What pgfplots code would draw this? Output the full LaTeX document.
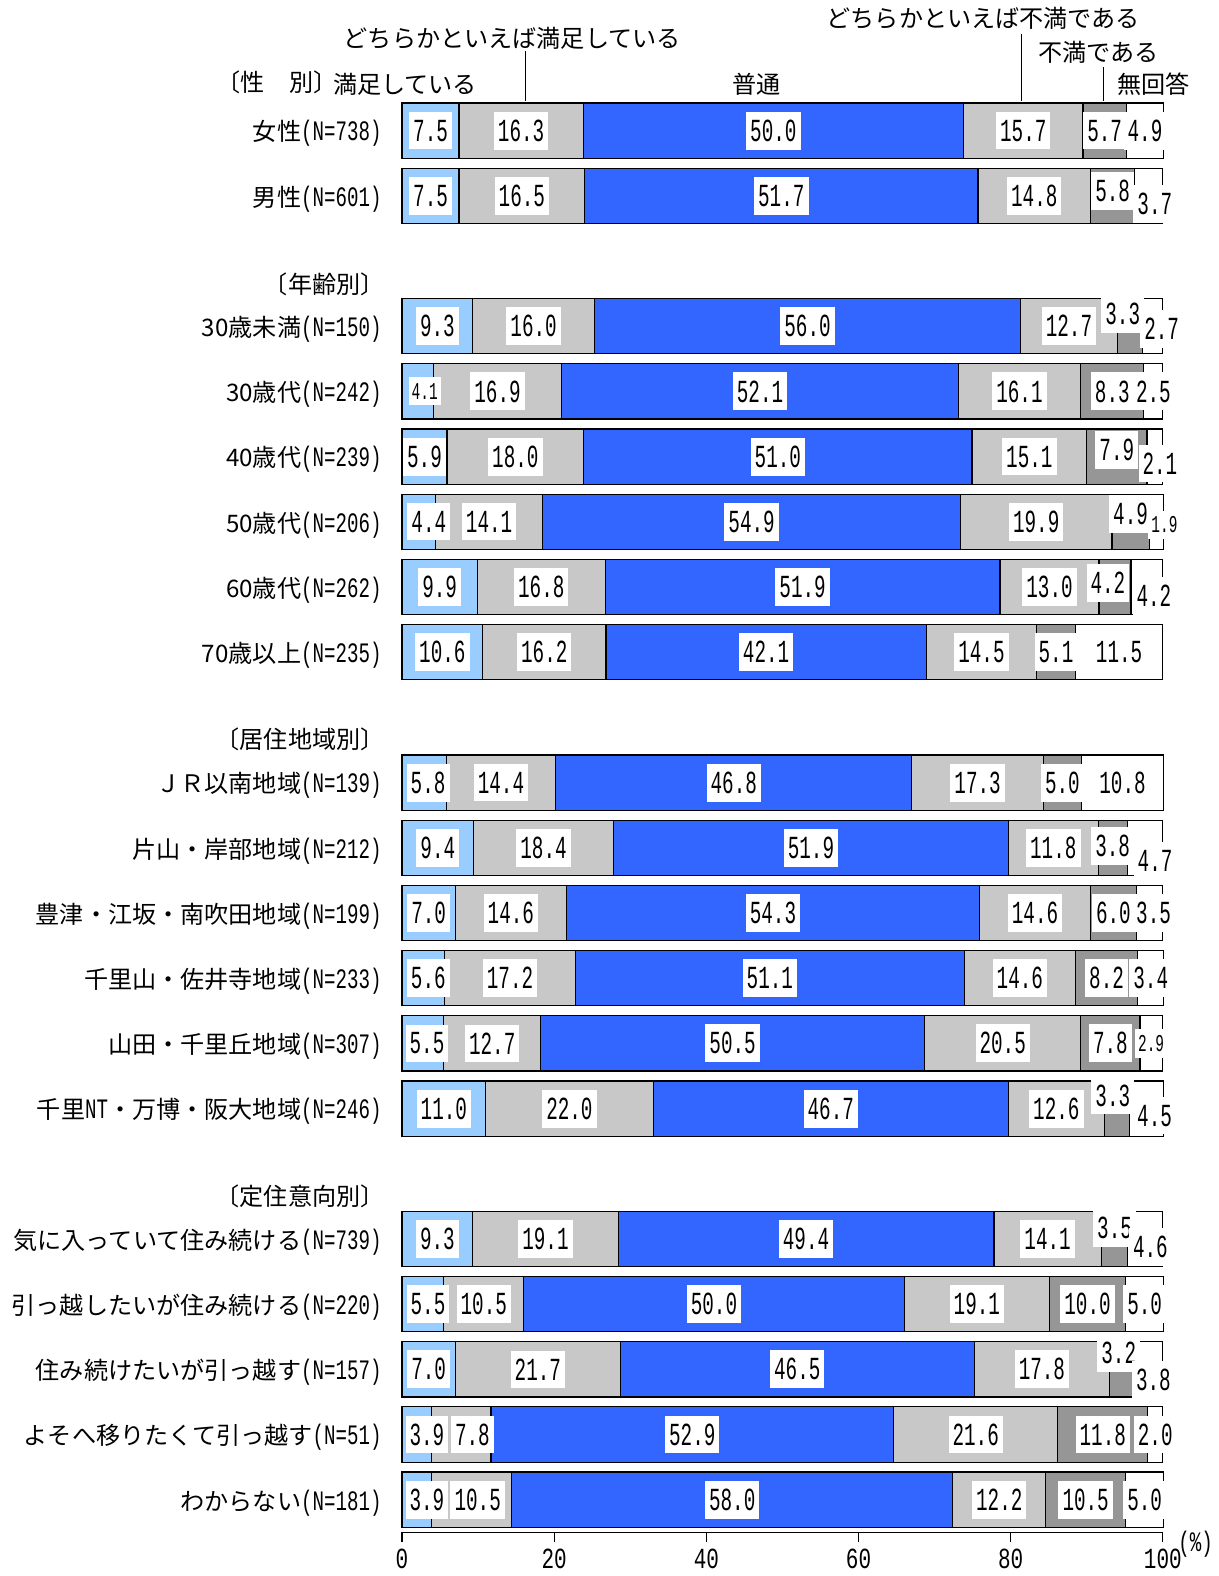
\documentclass[border=0pt]{standalone}
\usepackage{fontspec}
\setmainfont{Noto Sans CJK JP}
\newfontfamily\numfont{Liberation Mono}
\usepackage{graphicx}
\usepackage{pgfplots}
\usepackage{pgfplotstable}
\pgfplotsset{compat=1.18}

\definecolor{c1}{HTML}{99CCFF}
\definecolor{c2}{HTML}{C8C8C8}
\definecolor{c3}{HTML}{3366FF}
\definecolor{c5}{HTML}{969696}

\newcommand\nn[1]{\scalebox{0.68}[1]{\fontsize{14}{14}\selectfont\numfont #1}}
\newcommand\vl[1]{\scalebox{0.6}[1]{\fontsize{16}{16}\selectfont\numfont #1}}

\pgfplotstableread{
y   v1   v2   v3   v4   v5   v6   x1  s1   x2  x5   y5  x6  y6   s6  z
0   7.5  16.3 50.0 15.7 5.7  4.9  0   1    0   0    0   0   0    1   0
-1  7.5  16.5 51.7 14.8 5.8  3.7  0   1    0   0    2.5 3   -4   1   0
-3  9.3  16.0 56.0 12.7 3.3  2.7  0   1    0   -3.5 6   4.5 -1.5 1   0
-4  4.1  16.9 52.1 16.1 8.3  2.5  3.5 0.75 0   0    0   0   0    1   0
-5  5.9  18.0 51.0 15.1 7.9  2.1  0   1    0   0    3.5 2.5 -3.5 1   0
-6  4.4  14.1 54.9 19.9 4.9  1.9  5   1    0   0    4   4   -1.5 0.75 0
-7  9.9  16.8 51.9 13.0 4.2  4.2  0   1    0   -3.5 2   3.5 -4.5 1   0
-8  10.6 16.2 42.1 14.5 5.1  11.5 0   1    0   0    0   0   0    1   0
-10 5.8  14.4 46.8 17.3 5.0  10.8 2   1    0   0    0   0   0    1   0
-11 9.4  18.4 51.9 11.8 3.8  4.7  0   1    0   0    1   5   -6.5 1   0
-12 7.0  14.6 54.3 14.6 6.0  3.5  0   1    0   0    0   2   0    1   0
-13 5.6  17.2 51.1 14.6 8.2  3.4  2.5 1    0   0    0   0   0    1   0
-14 5.5  12.7 50.5 20.5 7.8  2.9  2   1    0   0    0   0   0    0.75 0
-15 11.0 22.0 46.7 12.6 3.3  4.5  0   1    0   -2   6.5 4   -3.5 1   0
-17 9.3  19.1 49.4 14.1 3.5  4.6  0   1    0   0    5.5 2.5 -4   1   0
-18 5.5  10.5 50.0 19.1 10.0 5.0  2.5 1    0   0    0   0   0    1   0
-19 7.0  21.7 46.5 17.8 3.2  3.8  0   1    0   -1.5 8   2.5 -5.5 1   0
-20 3.9  7.8  52.9 21.6 11.8 2.0  5   1    5.5 0    0   0   0    1   0
-21 3.9  10.5 58.0 12.2 10.5 5.0  5   1    3   0    0   0   0    1   0
}\data
\pgfplotstablecreatecol[create col/expr={\thisrow{v1}/2}]{c1}\data
\pgfplotstablecreatecol[create col/expr={\thisrow{v1}+\thisrow{v2}/2}]{c2}\data
\pgfplotstablecreatecol[create col/expr={\thisrow{v1}+\thisrow{v2}+\thisrow{v3}/2}]{c3}\data
\pgfplotstablecreatecol[create col/expr={\thisrow{v1}+\thisrow{v2}+\thisrow{v3}+\thisrow{v4}/2}]{c4}\data
\pgfplotstablecreatecol[create col/expr={\thisrow{v1}+\thisrow{v2}+\thisrow{v3}+\thisrow{v4}+\thisrow{v5}/2}]{c5}\data
\pgfplotstablecreatecol[create col/expr={\thisrow{v1}+\thisrow{v2}+\thisrow{v3}+\thisrow{v4}+\thisrow{v5}+\thisrow{v6}/2}]{c6}\data
\pgfplotstablecreatecol[create col/expr={1}]{one}\data

\tikzset{hd/.style={font=\fontsize{12}{12}\selectfont, inner sep=0pt}}
\pgfplotsset{
  base/.style={scale only axis, width=378.5pt, height=713.5pt,
    xmin=0, xmax=100, ymin=-21.5, ymax=0.5, clip=false},
  seg/.style={draw=black, line width=0.6pt, fill=#1},
  lbl/.style n args={3}{draw=none, mark=none, nodes near coords={\vl{\pgfplotspointmeta}},
    point meta=explicit symbolic,
    visualization depends on={\thisrow{#1}\as\dx},
    visualization depends on={\thisrow{#2}\as\dy},
    visualization depends on={\thisrow{#3}\as\sc},
    every node near coord/.append style={anchor=center, fill=white, text=black,
      inner xsep=2pt, inner ysep=4pt, xshift=\dx pt, yshift=\dy pt, scale=\sc}},
}

\begin{document}
\begin{tikzpicture}
\begin{axis}[base,
  xbar stacked, bar width=27.5pt,
  axis x line*=bottom, axis y line*=left,
  x axis line style={-, line width=0.6pt},
  y axis line style={draw=none},
  xtick={0,20,40,60,80,100},
  tick align=outside, major tick length=5pt,
  xtick style={line width=0.6pt, black},
  /pgf/number format/assume math mode=true,
  xticklabel style={font=\fontsize{14.5}{14.5}\selectfont\numfont, xscale=0.72, inner sep=0pt, yshift=-3.3pt},
  ytick={0,-1,-3,-4,-5,-6,-7,-8,-10,-11,-12,-13,-14,-15,-17,-18,-19,-20,-21},
  ytick style={draw=none},
  yticklabel style={font=\fontsize{12}{12}\selectfont, anchor=east, inner sep=0pt, xshift=-5pt, yshift=-1.5pt},
  yticklabels={
    {女性\nn{(N=738)}},
    {男性\nn{(N=601)}},
    {30歳未満\nn{(N=150)}},
    {30歳代\nn{(N=242)}},
    {40歳代\nn{(N=239)}},
    {50歳代\nn{(N=206)}},
    {60歳代\nn{(N=262)}},
    {70歳以上\nn{(N=235)}},
    {ＪＲ以南地域\nn{(N=139)}},
    {片山・岸部地域\nn{(N=212)}},
    {豊津・江坂・南吹田地域\nn{(N=199)}},
    {千里山・佐井寺地域\nn{(N=233)}},
    {山田・千里丘地域\nn{(N=307)}},
    {千里\nn{NT}・万博・阪大地域\nn{(N=246)}},
    {気に入っていて住み続ける\nn{(N=739)}},
    {引っ越したいが住み続ける\nn{(N=220)}},
    {住み続けたいが引っ越す\nn{(N=157)}},
    {よそへ移りたくて引っ越す\nn{(N=51)}},
    {わからない\nn{(N=181)}}},
]
\addplot[seg=c1] table[x=v1, y=y] {\data};
\addplot[seg=c2] table[x=v2, y=y] {\data};
\addplot[seg=c3] table[x=v3, y=y] {\data};
\addplot[seg=c2] table[x=v4, y=y] {\data};
\addplot[seg=c5] table[x=v5, y=y] {\data};
\addplot[seg=white] table[x=v6, y=y] {\data};

\coordinate (bbA) at (axis cs:-52.84,2.004);
\coordinate (bbB) at (axis cs:107.27,-22.17);

\node[hd, anchor=east] at (axis cs:-8.45,0.74) {〔性　別〕};
\node[hd] at (axis cs:0.4,0.71) {満足している};
\node[hd] at (axis cs:14.5,1.42) {どちらかといえば満足している};
\node[hd] at (axis cs:46.6,0.71) {普通};
\node[hd] at (axis cs:76.4,1.73) {どちらかといえば不満である};
\node[hd] at (axis cs:91.5,1.20) {不満である};
\node[hd] at (axis cs:98.8,0.71) {無回答};
\node[hd, anchor=east] at (axis cs:-2.25,-2.36) {〔年齢別〕};
\node[hd, anchor=east] at (axis cs:-2.25,-9.33) {〔居住地域別〕};
\node[hd, anchor=east] at (axis cs:-2.25,-16.34) {〔定住意向別〕};
\draw[line width=0.6pt] (axis cs:16.25,1.22) -- (axis cs:16.25,0.46);
\draw[line width=0.6pt] (axis cs:81.4,1.48) -- (axis cs:81.4,0.46);
\draw[line width=0.6pt] (axis cs:92.2,0.97) -- (axis cs:92.2,0.46);
\node[inner sep=0pt] at (axis cs:104.3,-21.68) {\nn{(\%)}};
\end{axis}

\begin{axis}[base, hide axis, xtick=\empty, ytick=\empty]
\addplot[lbl={x1}{z}{s1}] table[x=c1, y=y, meta=v1] {\data};
\addplot[lbl={x2}{z}{one}] table[x=c2, y=y, meta=v2] {\data};
\addplot[lbl={z}{z}{one}] table[x=c3, y=y, meta=v3] {\data};
\addplot[lbl={z}{z}{one}] table[x=c4, y=y, meta=v4] {\data};
\addplot[lbl={x5}{y5}{one}] table[x=c5, y=y, meta=v5] {\data};
\addplot[lbl={x6}{y6}{s6}] table[x=c6, y=y, meta=v6] {\data};
\end{axis}
\pgfresetboundingbox
\path[use as bounding box] (bbA) rectangle (bbB);
\end{tikzpicture}
\end{document}
